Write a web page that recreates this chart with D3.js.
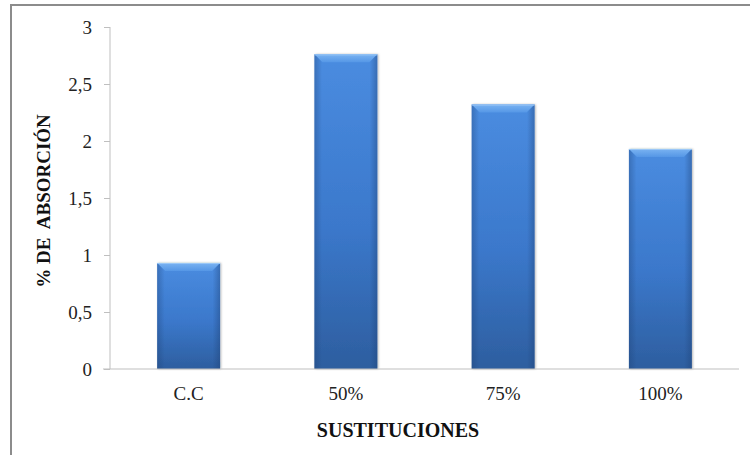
<!DOCTYPE html>
<html>
<head>
<meta charset="utf-8">
<script src="https://cdn.jsdelivr.net/npm/d3@7"></script>
<style>
  html, body { margin: 0; padding: 0; background: #fff; }
  svg { display: block; }
</style>
</head>
<body>
<svg id="chart" width="750" height="455"></svg>
<script>
// Absorption percentage by substitution level
const categories = ["C.C", "50%", "75%", "100%"];
const absorption = [0.93, 2.76, 2.32, 1.93];
const yTicks = [0, 0.5, 1, 1.5, 2, 2.5, 3];

const SERIF = '"Liberation Serif", "Times New Roman", Tinos, serif';
const svg = d3.select("#chart");
const W = 750, H = 455;
const plot = { left: 110, right: 739, top: 27, bottom: 369 };

// Frame (left and top edges)
svg.append("path")
  .attr("d", `M11,${H} L11,5 L${W},5`)
  .attr("fill", "none").attr("stroke", "#8c8c8c").attr("stroke-width", 2);

const x = d3.scaleBand().domain(categories).range([plot.left, plot.right]).paddingInner(0.6).paddingOuter(0.3);
const y = d3.scaleLinear().domain([0, 3]).range([plot.bottom, plot.top]);

const defs = svg.append("defs");
const gv = defs.append("linearGradient").attr("id", "barV").attr("x1", 0).attr("y1", 0).attr("x2", 0).attr("y2", 1);
gv.append("stop").attr("offset", "0%").attr("stop-color", "#4a8ce0");
gv.append("stop").attr("offset", "55%").attr("stop-color", "#3b78cb");
gv.append("stop").attr("offset", "100%").attr("stop-color", "#2d5e9f");
const gh = defs.append("linearGradient").attr("id", "barH").attr("x1", 0).attr("y1", 0).attr("x2", 1).attr("y2", 0);
gh.append("stop").attr("offset", "0%").attr("stop-color", "#1d3f72").attr("stop-opacity", 0.35);
gh.append("stop").attr("offset", "12%").attr("stop-color", "#1d3f72").attr("stop-opacity", 0);
gh.append("stop").attr("offset", "88%").attr("stop-color", "#1d3f72").attr("stop-opacity", 0);
gh.append("stop").attr("offset", "100%").attr("stop-color", "#1d3f72").attr("stop-opacity", 0.4);
const gt = defs.append("linearGradient").attr("id", "bevelTop").attr("x1", 0).attr("y1", 0).attr("x2", 0).attr("y2", 1);
gt.append("stop").attr("offset", "0%").attr("stop-color", "#7ab3f2");
gt.append("stop").attr("offset", "100%").attr("stop-color", "#5597e6");
const sh = defs.append("filter").attr("id", "shadow").attr("x", "-20%").attr("y", "-20%").attr("width", "140%").attr("height", "140%");
sh.append("feDropShadow").attr("dx", 1).attr("dy", 0).attr("stdDeviation", 1.2).attr("flood-color", "#000").attr("flood-opacity", 0.3);

// Bars
const bevel = 8;
const bars = svg.append("g").selectAll("g").data(categories.map((c, i) => ({ c, v: absorption[i] })))
  .join("g");
bars.append("rect")
  .attr("x", d => x(d.c)).attr("y", d => y(d.v))
  .attr("width", x.bandwidth()).attr("height", d => y(0) - y(d.v))
  .attr("fill", "url(#barV)").attr("filter", "url(#shadow)");
bars.append("rect")
  .attr("x", d => x(d.c)).attr("y", d => y(d.v))
  .attr("width", x.bandwidth()).attr("height", d => y(0) - y(d.v))
  .attr("fill", "url(#barH)");
bars.append("path")
  .attr("d", d => {
    const x0 = x(d.c), x1 = x0 + x.bandwidth(), t = y(d.v);
    return `M${x0},${t} L${x1},${t} L${x1 - bevel},${t + bevel} L${x0 + bevel},${t + bevel} Z`;
  })
  .attr("fill", "url(#bevelTop)");
bars.append("line")
  .attr("x1", d => x(d.c)).attr("x2", d => x(d.c) + x.bandwidth())
  .attr("y1", d => y(d.v) + 0.5).attr("y2", d => y(d.v) + 0.5)
  .attr("stroke", "#9cc8f7").attr("stroke-width", 1);

// Y axis
const yAxis = svg.append("g").attr("transform", `translate(${plot.left},0)`)
  .call(d3.axisLeft(y).tickValues(yTicks).tickSize(6).tickPadding(12)
    .tickFormat(d => String(d).replace(".", ",")));
yAxis.attr("font-family", null).attr("font-size", null);
yAxis.select(".domain").attr("stroke", "#bfbfbf").attr("d", `M0,${plot.top}V${plot.bottom}`);
yAxis.selectAll(".tick line").attr("stroke", "#bfbfbf");
yAxis.selectAll(".tick text")
  .style("font-family", SERIF).style("font-size", "19px").attr("fill", "#222");

// X axis
const xAxis = svg.append("g").attr("transform", `translate(0,${plot.bottom})`)
  .call(d3.axisBottom(x).tickSize(0).tickPadding(18));
xAxis.attr("font-family", null).attr("font-size", null);
xAxis.select(".domain").attr("stroke", "#bfbfbf").attr("d", `M${plot.left - 7},0H${plot.right}`);
xAxis.selectAll(".tick text")
  .style("font-family", SERIF).style("font-size", "19px").attr("fill", "#222");

// Axis titles
svg.append("text")
  .attr("transform", "translate(50,201) rotate(-90)")
  .attr("text-anchor", "middle")
  .style("font-family", SERIF).style("font-size", "19px")
  .attr("font-weight", "bold").attr("fill", "#111")
  .style("white-space", "pre")
  .text("% DE  ABSORCIÓN");

svg.append("text")
  .attr("x", 398).attr("y", 437)
  .attr("text-anchor", "middle")
  .style("font-family", SERIF).style("font-size", "20px")
  .attr("font-weight", "bold").attr("fill", "#111")
  .text("SUSTITUCIONES");
</script>
</body>
</html>
